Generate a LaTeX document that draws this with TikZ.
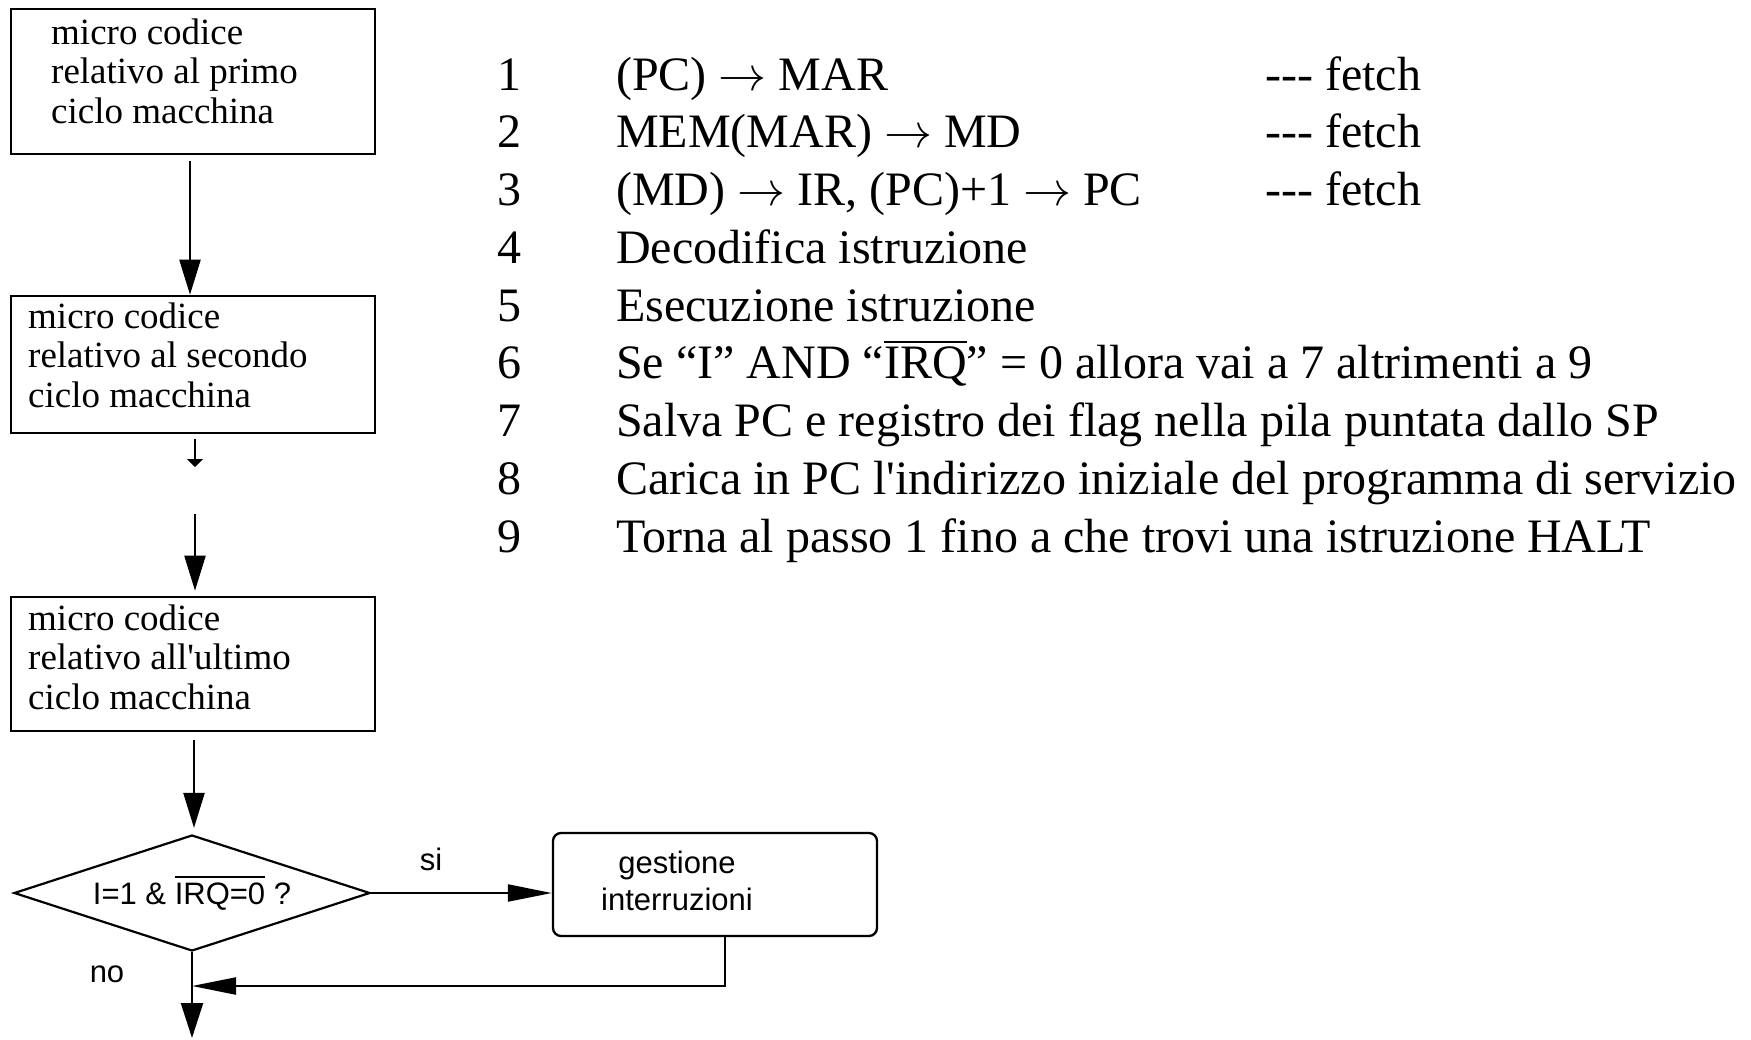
\RequirePackage{fix-cm}
\documentclass[tikz,border=0pt]{standalone}
\usepackage{fontspec}
\setmainfont{Liberation Serif}[Ligatures=TeXOff]
\newfontfamily\sansf{Liberation Sans}[Ligatures=TeXOff]
\usetikzlibrary{arrows.meta,shapes.geometric}
% overline drawn as a rule above a box of text
\newcommand\ovlserif[1]{\leavevmode\vbox{\hrule height 2pt\kern 4pt\hbox{#1}}}
\newcommand\ovlsans[1]{\leavevmode\vbox{\hrule height 1.8pt\kern 5pt\hbox{#1}}}
\newcommand\rarr{$\rightarrow$}
\begin{document}
\begin{tikzpicture}[x=1pt,y=-1pt,
  box/.style={draw, line width=2.6pt, rectangle, inner sep=0pt},
  boxtext/.style={inner sep=0pt, align=left, anchor=north west,
    font=\fontsize{37}{39.7}\selectfont},
  listtext/.style={inner sep=0pt, align=left, anchor=north west,
    font=\fontsize{48}{57.75}\selectfont},
  sanstext/.style={inner sep=0pt, font=\sansf\fontsize{31}{37}\selectfont},
  ln/.style={line width=2.2pt},
  bigtip/.style={-{Triangle[length=35pt,width=21pt]}},
  endtip/.style={-{Triangle[length=35pt,width=22pt]}},
  longtip/.style={-{Triangle[length=44pt,width=17pt]}},
  flattip/.style={-{Triangle[length=8pt,width=16pt]}},
]
\useasboundingbox (0,0) rectangle (1751,1039);

% flow chart boxes
\node[box, minimum width=364pt, minimum height=145pt] (b1) at (193,81.5) {};
\node[box, minimum width=364pt, minimum height=137pt] (b2) at (193,364.5) {};
\node[box, minimum width=364pt, minimum height=134pt] (b3) at (193,664) {};

\node[boxtext] (t1) at (51,16.2) {\strut micro codice\\relativo al primo\\ciclo macchina};
\node[boxtext] (t2) at (28,300.2) {\strut micro codice\\relativo al secondo\\ciclo macchina};
\node[boxtext] (t3) at (28,602.2) {\strut micro codice\\relativo all'ultimo\\ciclo macchina};

% decision and interrupt handling
\node[draw, diamond, line width=2.2pt, aspect=3, inner sep=0pt,
  minimum width=356pt, minimum height=116pt, sanstext] (d) at (192,893)
  {I=1 \& \ovlsans{IRQ=0} ?};
\node[draw, rounded corners=8pt, line width=2.3pt, inner sep=0pt,
  minimum width=324pt, minimum height=103pt] (g) at (715,884.5) {};
\node[sanstext, align=center, anchor=north] (gt) at (677,847.1)
  {\strut gestione\\interruzioni};

\node[sanstext, anchor=base] (si) at (431,870) {si};
\node[sanstext, anchor=base] (no) at (107,982) {no};

% free ends of connectors
\coordinate (s1) at (195,467);
\coordinate (s2) at (195,514);
\coordinate (exit) at (192,1038);
\coordinate (join) at (192,986);

% connectors
\draw[ln, bigtip] ([xshift=-3pt,yshift=-6pt]b1.south) -- ([xshift=-3pt]b2.north);
\draw[ln, flattip] ([xshift=2pt,yshift=-5pt]b2.south) -- (s1);
\draw[ln, bigtip] (s2) -- ([xshift=2pt,yshift=5pt]b3.north);
\draw[ln, bigtip] ([xshift=1pt,yshift=-8pt]b3.south) -- ([xshift=2pt,yshift=6pt]d.north);
\draw[ln, endtip] (d.south) -- (exit);
\draw[ln, longtip] (d.east) -- (d.east -| g.west);
\draw[ln, longtip] ([xshift=10pt]g.south) |- (join);

% instruction cycle steps
\node[listtext] (num) at (497,49.6)
  {\strut 1\\2\\3\\4\\5\\6\\7\\8\\9};
\node[listtext] (steps) at (616,49.6)
  {\strut (PC) \rarr{} MAR\\
   MEM(MAR) \rarr{} MD\\
   (MD) \rarr{} IR, (PC)+1 \rarr{} PC\\
   Decodifica istruzione\\
   Esecuzione istruzione\\
   Se “I” AND “\ovlserif{IRQ}” = 0 allora vai a 7 altrimenti a 9\\
   Salva PC e registro dei flag nella pila puntata dallo SP\\
   Carica in PC l'indirizzo iniziale del programma di servizio\\
   Torna al passo 1 fino a che trovi una istruzione HALT};
\node[listtext] (fetch) at (1265,49.6)
  {\strut --- fetch\\--- fetch\\--- fetch};
\end{tikzpicture}
\end{document}
